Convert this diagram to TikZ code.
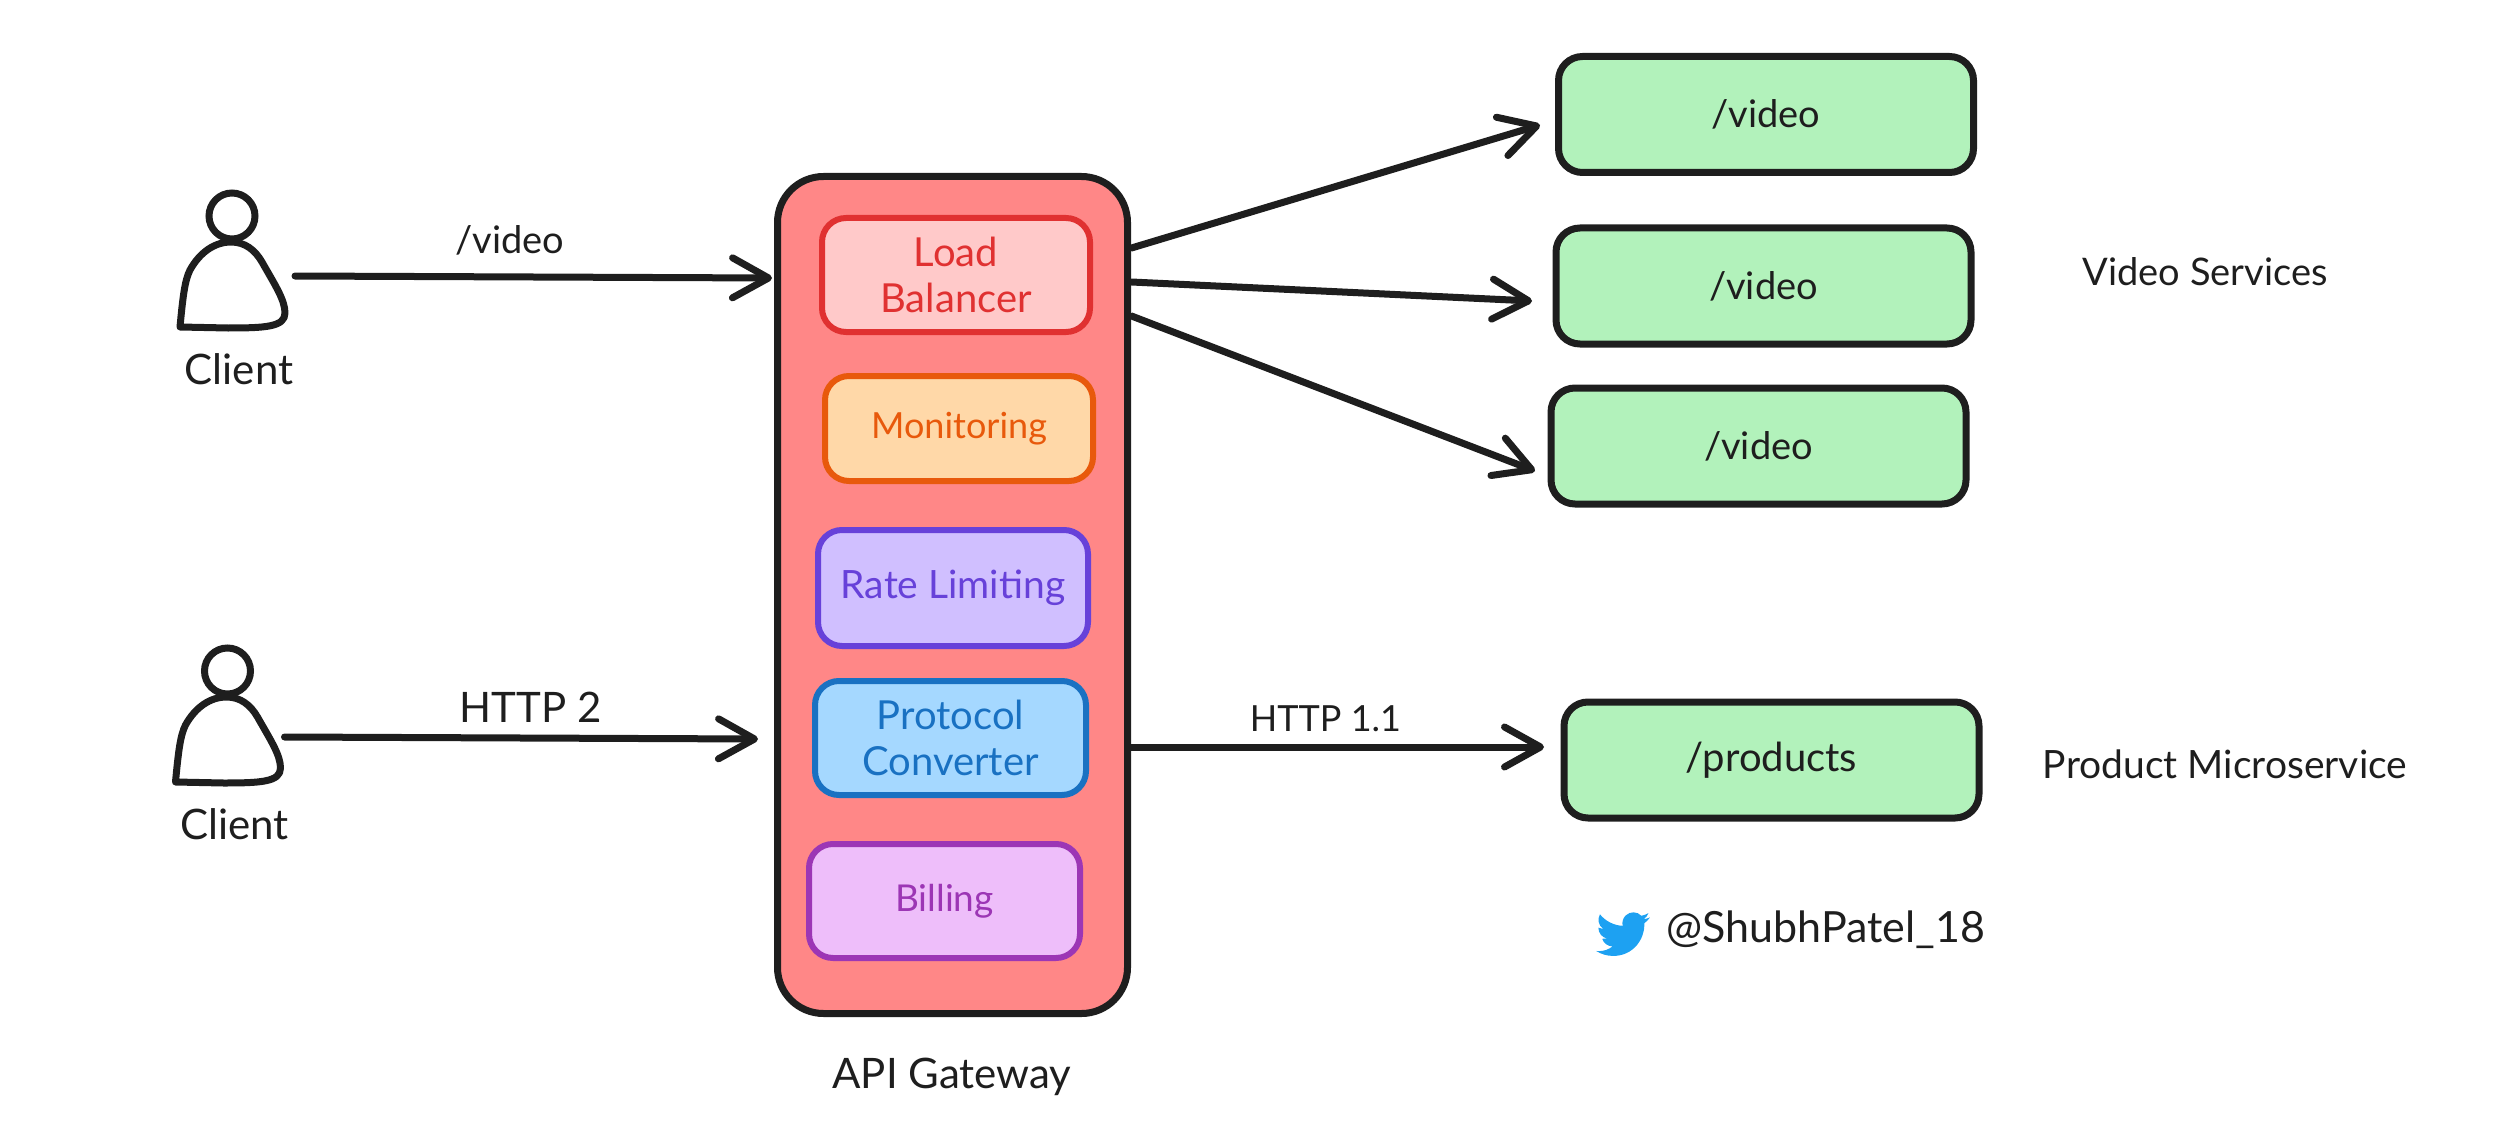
\documentclass[tikz,border=0pt]{standalone}
\usepackage{fontspec}
\setmainfont{Lato}
\usetikzlibrary{arrows.meta,svg.path}
\definecolor{ink}{HTML}{1E1E1E}
\newcommand{\sized}[1]{\fontsize{#1}{46}\selectfont}
\tikzset{
  x=1pt,y=-1pt,
  flow/.style={draw=ink,line width=7pt,line cap=round,
    -{Straight Barb[length=36pt,width=40pt,line width=7pt,round]}},
  panel/.style={draw,line width=6pt,rounded corners=24pt,align=center,outer sep=0pt,
    inner sep=0pt},
  service/.style={panel,line width=7pt,draw=ink,fill=svcgreen,minimum width=415pt,minimum height=116pt,text=ink},
  caption/.style={text=ink,inner sep=0pt},
  figure line/.style={draw=ink,line width=7pt,line join=round,line cap=round}
}
\definecolor{svcgreen}{HTML}{B2F2BB}
\definecolor{gatefill}{HTML}{FF8787}
\definecolor{lbfill}{HTML}{FFC9C9}\definecolor{lbline}{HTML}{E03131}
\definecolor{monfill}{HTML}{FFD8A8}\definecolor{monline}{HTML}{E8590C}
\definecolor{ratefill}{HTML}{D0BFFF}\definecolor{rateline}{HTML}{6741D9}
\definecolor{protofill}{HTML}{A5D8FF}\definecolor{protoline}{HTML}{1971C2}
\definecolor{billfill}{HTML}{EEBEFA}\definecolor{billline}{HTML}{9C36B5}
\definecolor{birdblue}{HTML}{1DA1F2}
\begin{document}
\begin{tikzpicture}
\useasboundingbox (0,0) rectangle (2512,1142);

% Gateway container with its internal components
\node[panel,draw=ink,fill=gatefill,line width=7pt,rounded corners=46pt,
      minimum width=350pt,minimum height=837pt] (gateway) at (952.5,595) {};
\node[panel,draw=lbline,fill=lbfill,text=lbline,minimum width=268pt,minimum height=114pt,font=\sized{40}] (lb) at (956,275) {Load\\Balancer};
\node[panel,draw=monline,fill=monfill,text=monline,minimum width=268pt,minimum height=105pt,font=\sized{36}] (mon) at (959,428.5) {Monitoring};
\node[panel,draw=rateline,fill=ratefill,text=rateline,minimum width=270pt,minimum height=116pt,font=\sized{39}] (rate) at (953,588) {Rate Limiting};
\node[panel,draw=protoline,fill=protofill,text=protoline,minimum width=271pt,minimum height=114pt,font=\sized{40}] (proto) at (950.5,738) {Protocol\\Converter};
\node[panel,draw=billline,fill=billfill,text=billline,minimum width=271pt,minimum height=114pt,font=\sized{37}] (bill) at (944.5,901) {Billing};
\node[caption,font=\sized{42}] (gwname) at (952,1077) {API Gateway};

% Client figures; the last two values give where each outgoing request starts
\foreach \dx/\dy/\n/\ax/\ay in {0/0/1/295/276,-4.5/455/2/289/282}{
  \begin{scope}[shift={(\dx,\dy)}]
    \node[circle,draw=ink,line width=7pt,minimum size=46pt,inner sep=0pt,outer sep=0pt] (head\n) at (232,216) {};
    \draw[figure line] (180,327) .. controls (183,295) and (185,280) .. (190,270)
      .. controls (200,252) and (215,242) .. (231,242)
      .. controls (245,242) and (255,250) .. (262,262)
      .. controls (275,285) and (285,300) .. (285,313)
      .. controls (285,327) and (265,328) .. (228,328) -- cycle;
    \node[caption,font=\sized{42}] (client\n) at (239,369) {Client};
    \coordinate (person\n) at (\ax,\ay);
  \end{scope}
}

% Backend services
\node[service,font=\sized{38}] (video1) at (1766,114.5) {/video};
\node[service,font=\sized{38}] (video2) at (1763.5,286) {/video};
\node[service,font=\sized{38}] (video3) at (1758.5,446) {/video};
\node[service,font=\sized{40}] (products) at (1771.5,760) {/products};

\node[caption,font=\sized{38}] (videosvc) at (2205,272) {Video Services};
\node[caption,font=\sized{39}] (prodsvc) at (2225,764) {Product Microservice};

% Requests entering the gateway
\draw[flow] (person1) -- ([xshift=-5.5pt,yshift=317pt]gateway.west)
  node[pos=.45,caption,font=\sized{38},above=18pt] (lblvideo) {/video};
\draw[flow] (person2) -- ([xshift=-19.5pt,yshift=-144pt]gateway.west)
  node[pos=.52,caption,font=\sized{42},above=12pt] (lblhttp2) {HTTP 2};

% Requests leaving the gateway
\draw[flow] ([xshift=4pt,yshift=347pt]gateway.east) -- ([xshift=-18.5pt,yshift=-10.5pt]video1.west);
\draw[flow] ([xshift=4pt,yshift=313pt]gateway.east) -- ([xshift=-24pt,yshift=-15pt]video2.west);
\draw[flow] ([xshift=4pt,yshift=279pt]gateway.east) -- ([xshift=-16pt,yshift=-25pt]video3.west);
\draw[flow] ([xshift=4pt,yshift=-152pt]gateway.east) -- ([xshift=-20pt,yshift=13pt]products.west)
  node[pos=.47,caption,font=\sized{36},above=12pt] (lblhttp11) {HTTP 1.1};

% Handle with bird mark
\begin{scope}[shift={(1596,912)},scale=.218,yscale=-1]
  \fill[birdblue] svg {M221.95 51.29 c0.15 2.17 0.15 4.34 0.15 6.53 c0 66.73 -50.8 143.69 -143.69 143.69 v-0.04 C50.97 201.51 24.1 193.65 1 178.83 c3.99 0.48 8 0.72 12.02 0.73 c22.74 0.02 44.83 -7.61 62.72 -21.66 c-21.61 -0.41 -40.56 -14.5 -47.18 -35.07 c7.57 1.46 15.37 1.16 22.8 -0.87 C27.8 117.2 10.85 96.5 10.85 72.46 c0 -0.22 0 -0.43 0 -0.64 c7.02 3.91 14.88 6.08 22.92 6.32 C11.58 63.31 4.74 33.79 18.14 10.71 c25.64 31.55 63.47 50.73 104.08 52.76 c-4.07 -17.54 1.49 -35.92 14.61 -48.25 c20.34 -19.12 52.33 -18.14 71.45 2.19 c11.31 -2.23 22.15 -6.54 32.07 -12.45 c-3.77 11.69 -11.65 21.62 -22.17 27.93 c9.99 -1.18 19.75 -3.86 28.94 -7.94 C240.37 35.29 231.83 44.14 221.95 51.29 z};
\end{scope}
\node[caption,font=\sized{43}] (handle) at (1826,930) {@ShubhPatel\_18};
\end{tikzpicture}
\end{document}
